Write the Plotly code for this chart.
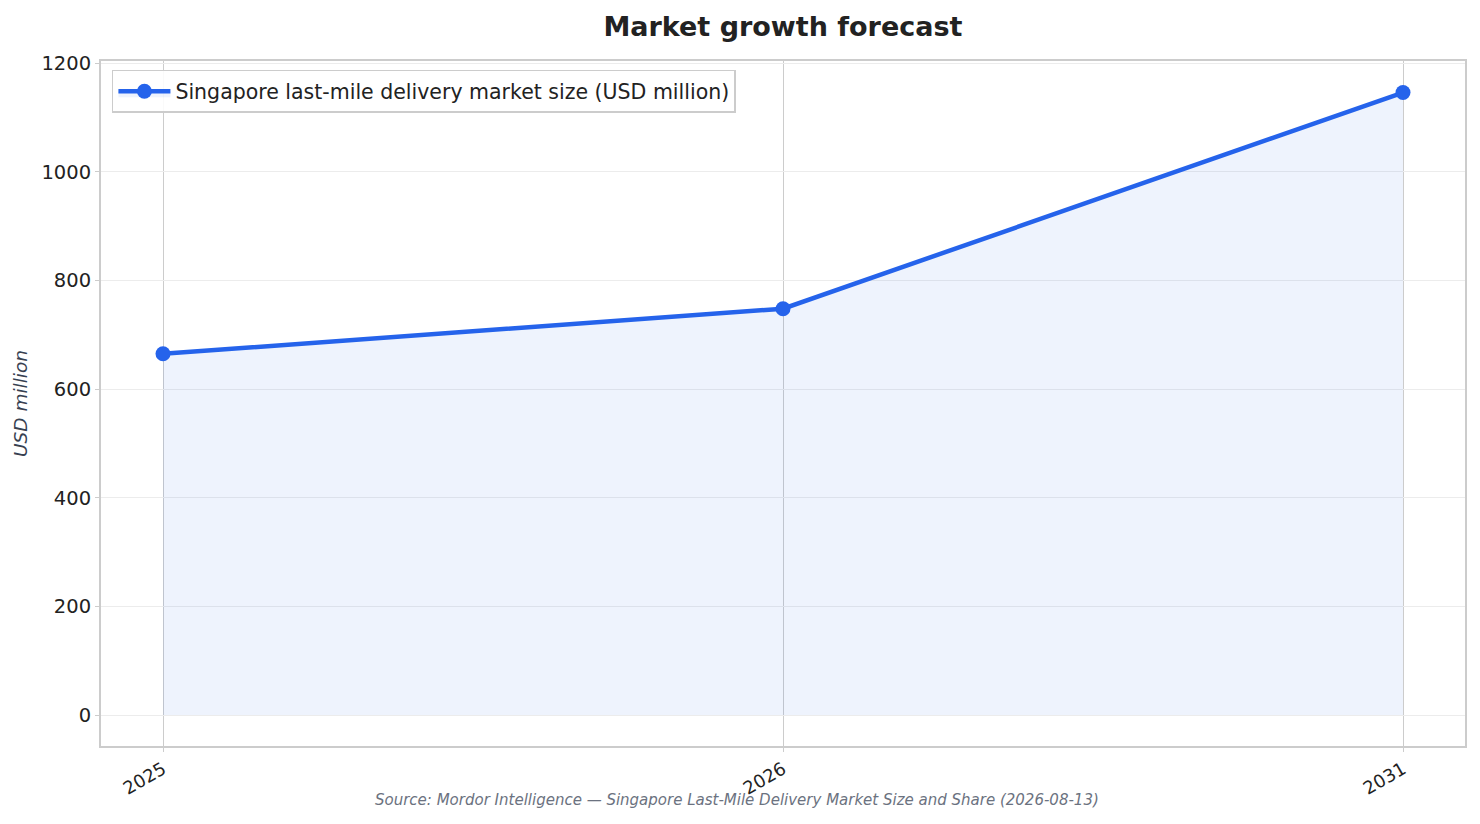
import plotly.graph_objects as go

# data
years = ["2025", "2026", "2031"]
market_size = [665, 748, 1146]
series_name = "Singapore last-mile delivery market size (USD million)"
y_ticks = [0, 200, 400, 600, 800, 1000, 1200]

font_family = "DejaVu Sans"
line_color = "#2563EB"

fig = go.Figure()

fig.add_trace(go.Scatter(
    x=years,
    y=market_size,
    mode="lines+markers",
    name=series_name,
    line=dict(color=line_color, width=4.5),
    marker=dict(color=line_color, size=15),
    fill="tozeroy",
    fillcolor="rgba(37, 99, 235, 0.08)",
))

# the page body adds an 8px offset, margins compensate for it
fig.update_layout(
    width=1480,
    height=824,
    paper_bgcolor="white",
    plot_bgcolor="white",
    font=dict(family=font_family, size=19, color="#222222"),
    title=dict(
        text="<b>Market growth forecast</b>",
        x=0.5236, xanchor="center",
        y=0.977, yanchor="middle",
        font=dict(size=27, color="#222222"),
    ),
    margin=dict(l=93, r=23, t=53, b=86),
    showlegend=True,
    legend=dict(
        x=0.008, y=0.987, xanchor="left", yanchor="top",
        bgcolor="rgba(255,255,255,0.9)",
        bordercolor="#cccccc", borderwidth=1.5,
        font=dict(size=20.5, color="#222222"),
        itemwidth=52,
    ),
    annotations=[dict(
        text="<i>Source: Mordor Intelligence — Singapore Last-Mile Delivery Market Size and Share (2026-08-13)</i>",
        xref="paper", yref="paper",
        x=0.466, y=-0.079, xanchor="center", yanchor="middle",
        showarrow=False,
        font=dict(size=15, color="#6b7280"),
    )],
)

fig.update_xaxes(
    type="category",
    range=[-0.1, 2.1],
    automargin=False,
    showgrid=True, gridcolor="#cccccc", gridwidth=1,
    showline=True, linecolor="#cccccc", linewidth=2, mirror=True,
    ticks="outside", ticklen=4, tickcolor="#cccccc",
    tickangle=-30,
    tickfont=dict(size=18, color="#222222"),
    zeroline=False,
)

fig.update_yaxes(
    range=[-57, 1204],
    tickvals=y_ticks,
    automargin=False,
    showgrid=True, gridcolor="#ececec", gridwidth=1,
    showline=True, linecolor="#cccccc", linewidth=2, mirror=True,
    ticks="outside", ticklen=4, tickcolor="#cccccc",
    tickfont=dict(size=19.5, color="#222222"),
    zeroline=False,
    title=dict(
        text="<i>USD million</i>",
        font=dict(size=18.5, color="#374151"),
        standoff=9,
    ),
)

fig.write_html("out.html")
